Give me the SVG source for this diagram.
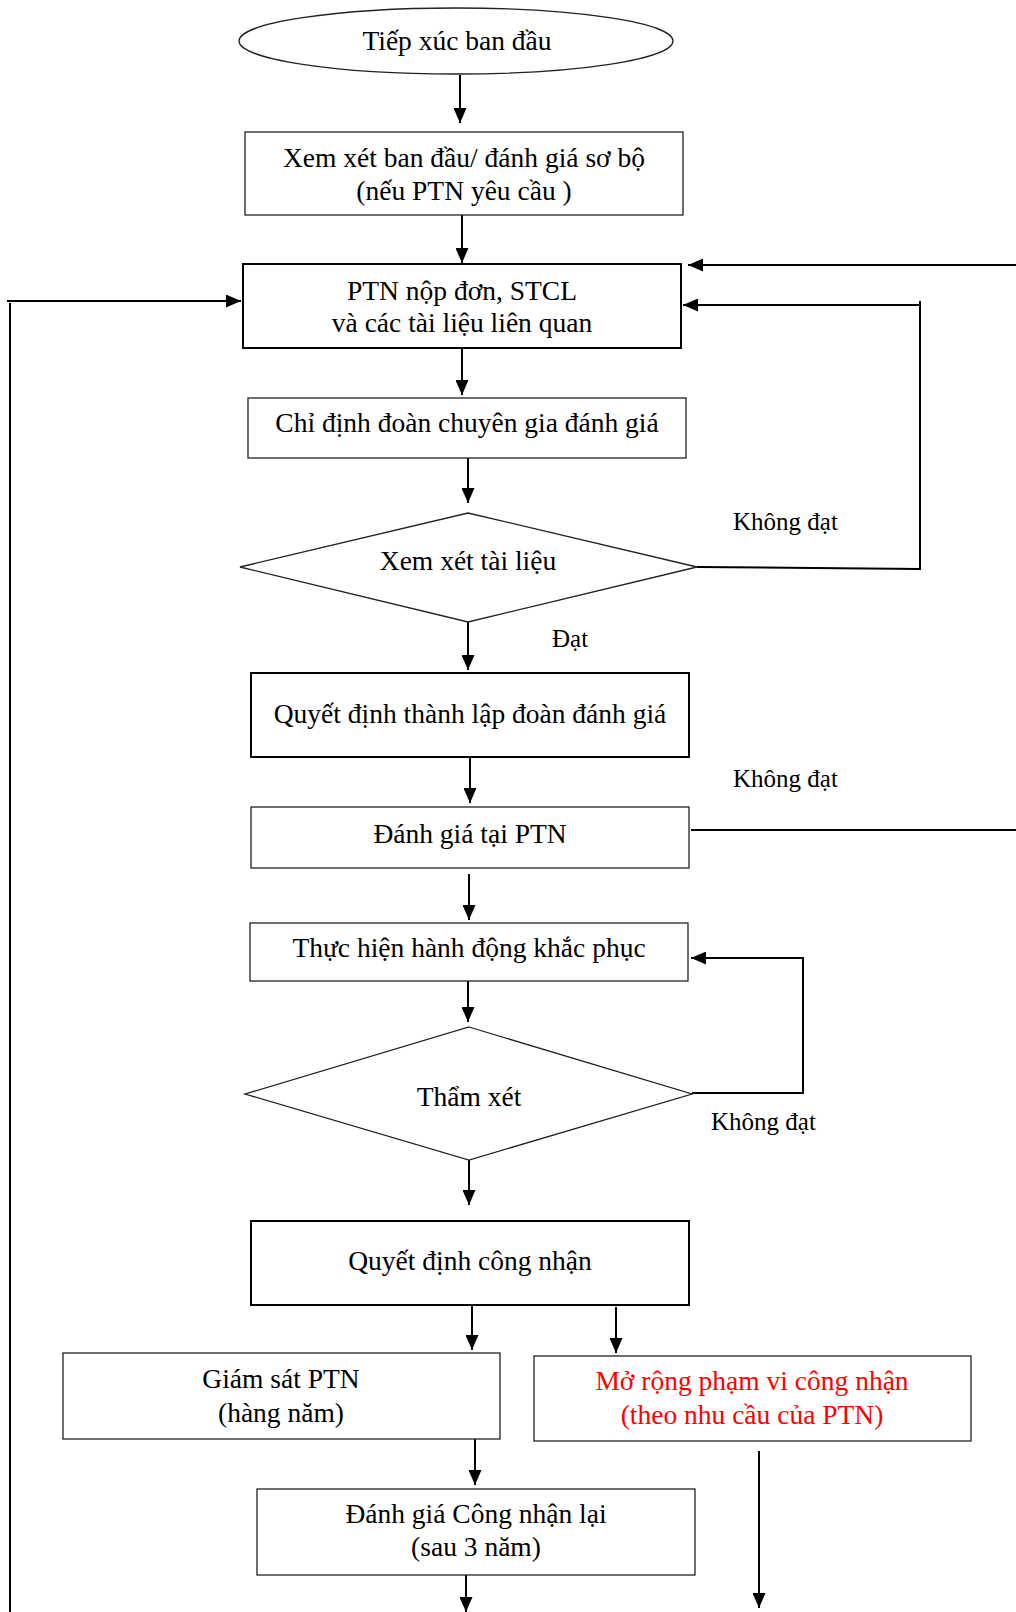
<svg xmlns="http://www.w3.org/2000/svg" width="1016" height="1612" viewBox="0 0 1016 1612">
<style>
text{font-family:"Liberation Serif","Times New Roman",serif;font-size:27.5px;fill:#000;text-anchor:middle}
.lbl{font-size:25px;text-anchor:start}
.red{fill:#ff0000}
.thin{fill:#fff;stroke:#222;stroke-width:1.3}
.thick{fill:#fff;stroke:#000;stroke-width:2}
.c line,.c polyline{stroke:#000;stroke-width:2;fill:none}
.a{marker-end:url(#ah)}
</style>
<defs>
<marker id="ah" markerUnits="userSpaceOnUse" markerWidth="15" markerHeight="13" refX="15" refY="6.5" orient="auto">
<path d="M0,0 L15,6.5 L0,13 z" fill="#000"/>
</marker>
</defs>
<rect width="1016" height="1612" fill="#fff"/>
<g id="connectors" class="c">
<line class="a" x1="460" y1="75" x2="460" y2="123"/>
<line class="a" x1="462" y1="215" x2="462" y2="263"/>
<line class="a" x1="462" y1="348" x2="462" y2="395"/>
<line class="a" x1="468" y1="458" x2="468" y2="503"/>
<line class="a" x1="468" y1="622" x2="468" y2="670"/>
<line class="a" x1="470" y1="757" x2="470" y2="803"/>
<line class="a" x1="469" y1="874" x2="469" y2="920"/>
<line class="a" x1="468" y1="981" x2="468" y2="1022"/>
<line class="a" x1="469" y1="1160" x2="469" y2="1205"/>
<line class="a" x1="472" y1="1305" x2="472" y2="1350"/>
<line class="a" x1="616" y1="1307" x2="616" y2="1353"/>
<line class="a" x1="475" y1="1439" x2="475" y2="1485"/>
<line class="a" x1="466" y1="1575" x2="466" y2="1612"/>
<line class="a" x1="759" y1="1451" x2="759" y2="1608"/>
<line class="a" x1="7" y1="301" x2="241" y2="301"/>
<line x1="10" y1="303" x2="10" y2="1612"/>
<line class="a" x1="1016" y1="265" x2="688" y2="265"/>
<line x1="697" y1="567" x2="920" y2="569"/>
<line x1="920" y1="301" x2="920" y2="570"/>
<line class="a" x1="920" y1="305" x2="683" y2="305"/>
<line x1="691" y1="830" x2="1016" y2="830"/>
<polyline class="a" points="692,1093 803,1093 803,958 691,958"/>
</g>
<g id="n1"><ellipse cx="456" cy="41" rx="217" ry="33" class="thin"/><text x="457" y="50">Tiếp xúc ban đầu</text></g>
<g id="n2"><rect x="245" y="132" width="438" height="83" class="thin"/><text x="464" y="167">Xem xét ban đầu/ đánh giá sơ bộ</text><text x="464" y="200">(nếu PTN yêu cầu )</text></g>
<g id="n3"><rect x="243" y="264" width="438" height="84" class="thick"/><text x="462" y="300">PTN nộp đơn, STCL</text><text x="462" y="332">và các tài liệu liên quan</text></g>
<g id="n4"><rect x="248" y="398" width="438" height="60" class="thin"/><text x="467" y="432">Chỉ định đoàn chuyên gia đánh giá</text></g>
<g id="n5"><polygon points="468,513 697,567 468,622 240,567" class="thin"/><text x="468" y="570">Xem xét tài liệu</text></g>
<g id="n6"><rect x="251" y="673" width="438" height="84" class="thick"/><text x="470" y="723">Quyết định thành lập đoàn đánh giá</text></g>
<g id="n7"><rect x="251" y="807" width="438" height="61" class="thin"/><text x="470" y="843">Đánh giá tại PTN</text></g>
<g id="n8"><rect x="250" y="923" width="438" height="58" class="thin"/><text x="469" y="957">Thực hiện hành động khắc phục</text></g>
<g id="n9"><polygon points="469,1027 692,1094 469,1160 245,1094" class="thin"/><text x="469" y="1106">Thẩm xét</text></g>
<g id="n10"><rect x="251" y="1221" width="438" height="84" class="thick"/><text x="470" y="1270">Quyết định công nhận</text></g>
<g id="n11"><rect x="63" y="1353" width="437" height="86" class="thin"/><text x="281" y="1388">Giám sát PTN</text><text x="281" y="1422">(hàng năm)</text></g>
<g id="n12"><rect x="534" y="1356" width="437" height="85" class="thin"/><text class="red" x="752" y="1390">Mở rộng phạm vi công nhận</text><text class="red" x="752" y="1424">(theo nhu cầu của PTN)</text></g>
<g id="n13"><rect x="257" y="1489" width="438" height="86" class="thin"/><text x="476" y="1523">Đánh giá Công nhận lại</text><text x="476" y="1556">(sau 3 năm)</text></g>
<g id="labels">
<text class="lbl" x="733" y="530">Không đạt</text>
<text class="lbl" x="552" y="647">Đạt</text>
<text class="lbl" x="733" y="787">Không đạt</text>
<text class="lbl" x="711" y="1130">Không đạt</text>
</g>
</svg>
